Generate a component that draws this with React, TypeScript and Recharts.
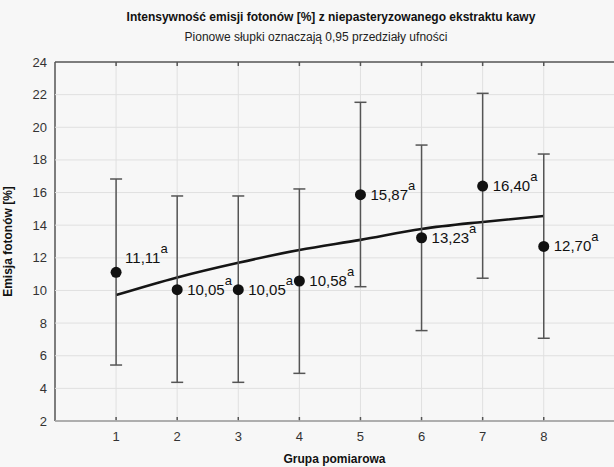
import React from "react";
import {
  ComposedChart,
  Line,
  Scatter,
  ErrorBar,
  XAxis,
  YAxis,
} from "recharts";

const groups = [1, 2, 3, 4, 5, 6, 7, 8];
const means = [11.11, 10.05, 10.05, 10.58, 15.87, 13.23, 16.4, 12.7];
const lowerCI = [5.43, 4.37, 4.37, 4.92, 10.23, 7.54, 10.75, 7.07];
const upperCI = [16.83, 15.79, 15.79, 16.22, 21.53, 18.91, 22.08, 18.36];
const trend = [9.72, 10.8, 11.7, 12.48, 13.1, 13.77, 14.2, 14.56];
const meanLabels = ["11,11", "10,05", "10,05", "10,58", "15,87", "13,23", "16,40", "12,70"];
const letters = ["a", "a", "a", "a", "a", "a", "a", "a"];
const xTicks = [1, 2, 3, 4, 5, 6, 7, 8];
const yTicks = [2, 4, 6, 8, 10, 12, 14, 16, 18, 20, 22, 24];
const xDomain: [number, number] = [0, 9.15];
const yDomain: [number, number] = [2, 24];

const data = groups.map((g, i) => ({
  x: g,
  mean: means[i],
  trend: trend[i],
  err: [means[i] - lowerCI[i], upperCI[i] - means[i]],
  label: meanLabels[i],
  letter: letters[i],
  idx: i,
}));

const FONT = "'Liberation Sans', Arial, sans-serif";
const CHART_W = 614;
const CHART_H = 467;
const MARGIN = { top: 62, right: 0, bottom: 16, left: 0 };
const X_AXIS_H = 30;
const Y_AXIS_W = 55;
const PLOT_H = CHART_H - MARGIN.top - MARGIN.bottom - X_AXIS_H;
const PLOT_W = CHART_W - MARGIN.left - MARGIN.right - Y_AXIS_W;
const X_TICK_MARGIN = 8;
const Y_TICK_MARGIN = 8;
const GRID = "#e0e0e0";
const AXIS = "#555";

const XTick = (props: any) => {
  const { x, y, payload } = props;
  const axisY = y - X_TICK_MARGIN;
  const topY = axisY - PLOT_H;
  return (
    <g>
      <line x1={x} x2={x} y1={axisY} y2={topY} stroke={GRID} strokeWidth={1} />
      <line x1={x} x2={x} y1={axisY} y2={axisY - 4} stroke={AXIS} strokeWidth={1.5} />
      <line x1={x} x2={x} y1={topY} y2={topY + 4} stroke={AXIS} strokeWidth={1.5} />
      <text x={x} y={y + 12} textAnchor="middle" fontSize={13} fill="#333" fontFamily={FONT}>
        {payload.value}
      </text>
    </g>
  );
};

const YTick = (props: any) => {
  const { x, y, payload } = props;
  const axisX = x + Y_TICK_MARGIN;
  const isTop = payload.value === yDomain[1];
  return (
    <g>
      <line
        x1={axisX}
        x2={axisX + PLOT_W}
        y1={y}
        y2={y}
        stroke={isTop ? AXIS : GRID}
        strokeWidth={isTop ? 1.5 : 1}
      />
      <text x={x} y={y + 4.5} textAnchor="end" fontSize={13} fill="#333" fontFamily={FONT}>
        {payload.value}
      </text>
    </g>
  );
};

const PointShape = (props: any) => {
  const { cx, cy, payload } = props;
  if (cx == null || cy == null) return null;
  const above = payload.idx === 0;
  const tx = cx + (above ? 9 : 10);
  const ty = cy + (above ? -9 : 5);
  return (
    <g>
      <circle cx={cx} cy={cy} r={5.5} fill="#111" />
      <text x={tx} y={ty} fontSize={15} fill="#111" fontFamily={FONT}>
        <tspan>{payload.label}</tspan>
        <tspan dy={-10} fontSize={13}>
          {payload.letter}
        </tspan>
      </text>
    </g>
  );
};

export default function App() {
  return (
    <div
      style={{
        position: "absolute",
        left: 0,
        top: 0,
        width: CHART_W,
        height: CHART_H,
        background: "#f7f7f7",
        fontFamily: FONT,
        overflow: "hidden",
      }}
    >
      {/* bottom layer: plot background, grid and axes */}
      <div style={{ position: "absolute", left: 0, top: 0 }}>
        <ComposedChart width={CHART_W} height={CHART_H} data={data} margin={MARGIN}>
          <XAxis
            type="number"
            dataKey="x"
            domain={xDomain}
            ticks={xTicks}
            allowDataOverflow
            height={X_AXIS_H}
            stroke={AXIS}
            strokeWidth={1.5}
            tickLine={false}
            tickSize={0}
            tickMargin={X_TICK_MARGIN}
            tick={<XTick />}
            label={{
              value: "Grupa pomiarowa",
              position: "insideBottom",
              offset: -12,
              fill: "#111",
              fontSize: 12,
              fontWeight: "bold",
              fontFamily: FONT,
            }}
          />
          <YAxis
            type="number"
            domain={yDomain}
            ticks={yTicks}
            width={Y_AXIS_W}
            stroke={AXIS}
            strokeWidth={1.5}
            tickLine={false}
            tickSize={0}
            tickMargin={Y_TICK_MARGIN}
            tick={<YTick />}
            label={{
              value: "Emisja fotonów [%]",
              angle: -90,
              position: "insideLeft",
              offset: 8,
              style: { textAnchor: "middle" },
              fill: "#111",
              fontSize: 12,
              fontWeight: "bold",
              fontFamily: FONT,
            }}
          />
          <Line
            dataKey="trend"
            stroke="none"
            dot={false}
            activeDot={false}
            isAnimationActive={false}
          />
        </ComposedChart>
      </div>
      {/* top layer: series drawn above the grid */}
      <div style={{ position: "absolute", left: 0, top: 0 }}>
        <ComposedChart width={CHART_W} height={CHART_H} data={data} margin={MARGIN}>
          <XAxis
            type="number"
            dataKey="x"
            domain={xDomain}
            ticks={xTicks}
            allowDataOverflow
            height={X_AXIS_H}
            axisLine={false}
            tickLine={false}
            tick={false}
          />
          <YAxis
            type="number"
            domain={yDomain}
            ticks={yTicks}
            width={Y_AXIS_W}
            axisLine={false}
            tickLine={false}
            tick={false}
          />
          <Line
            dataKey="trend"
            type="monotone"
            stroke="#151515"
            strokeWidth={2.6}
            dot={false}
            activeDot={false}
            isAnimationActive={false}
          />
          <Scatter data={data} dataKey="mean" shape={PointShape} isAnimationActive={false}>
            <ErrorBar
              dataKey="err"
              direction="y"
              width={6}
              stroke={AXIS}
              strokeWidth={1.5}
              isAnimationActive={false}
            />
          </Scatter>
        </ComposedChart>
      </div>
      <svg
        width={CHART_W}
        height={60}
        style={{ position: "absolute", left: 0, top: 0, pointerEvents: "none" }}
      >
        <text
          x={331}
          y={21}
          textAnchor="middle"
          fontSize={12}
          fontWeight="bold"
          fill="#111"
          fontFamily={FONT}
        >
          Intensywność emisji fotonów [%] z niepasteryzowanego ekstraktu kawy
        </text>
        <text x={316} y={41} textAnchor="middle" fontSize={12} fill="#222" fontFamily={FONT}>
          Pionowe słupki oznaczają 0,95 przedziały ufności
        </text>
      </svg>
    </div>
  );
}
